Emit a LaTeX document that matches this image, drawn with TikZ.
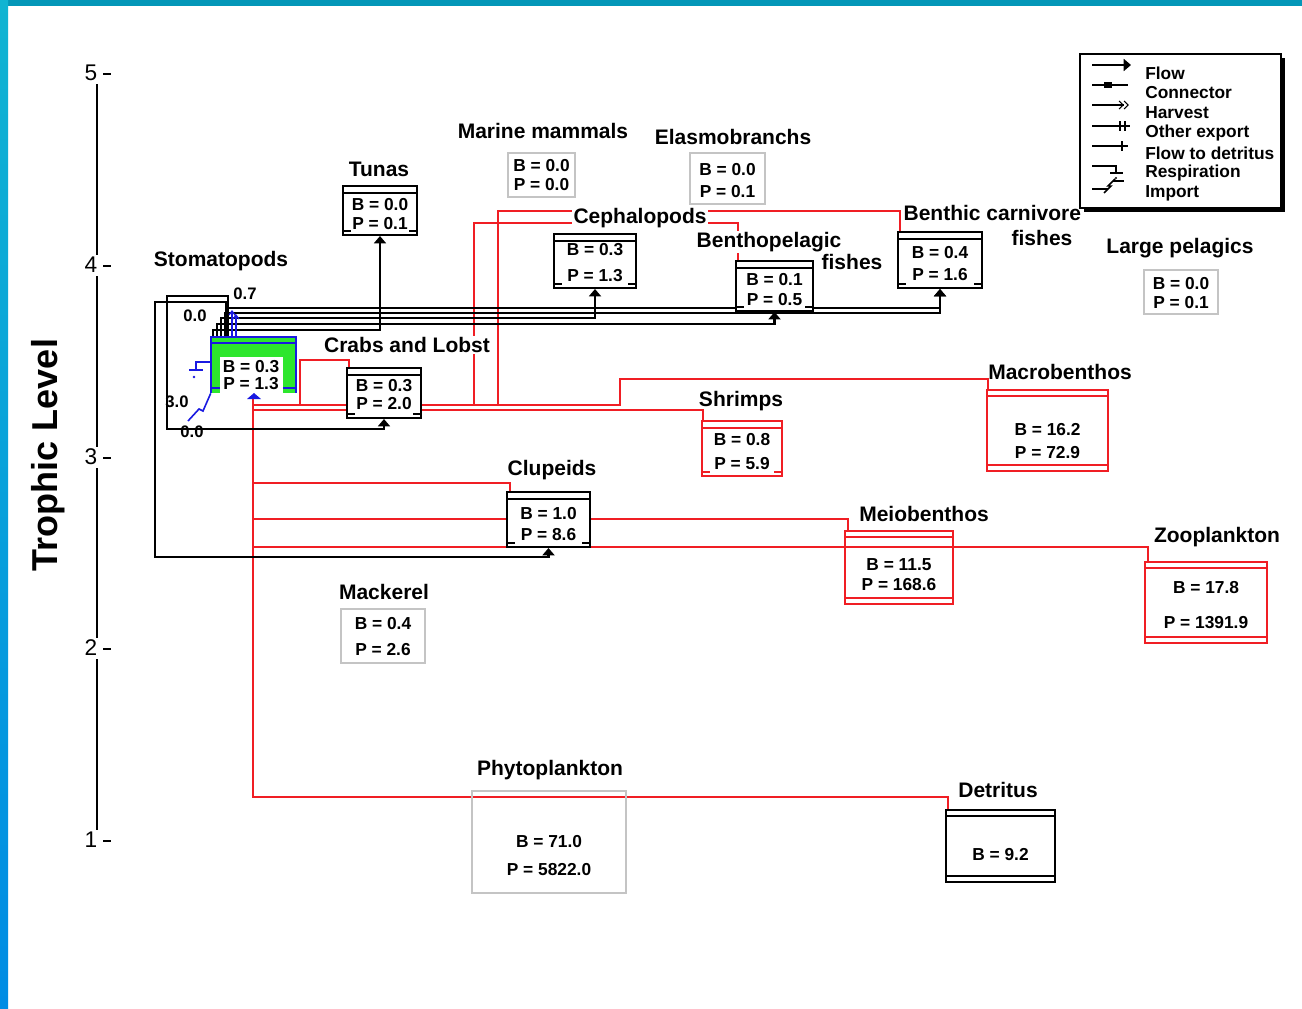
\documentclass[tikz,border=0pt]{standalone}
\usepackage{fontspec}
\setmainfont{Liberation Sans}
\usetikzlibrary{arrows.meta,fit}
\definecolor{rd}{RGB}{240,30,36}
\definecolor{gr}{RGB}{45,230,45}
\definecolor{bl}{RGB}{25,25,225}
\definecolor{gy}{RGB}{196,196,196}
\definecolor{topbar}{RGB}{4,151,184}
\definecolor{lefttop}{RGB}{16,180,210}
\definecolor{leftbot}{RGB}{0,140,228}
\pgfdeclarelayer{bg}
\pgfsetlayers{bg,main}
\tikzset{
  nm/.style={font=\bfseries\fontsize{15.75}{18}\selectfont, inner sep=1pt},
  nmw/.style={nm, fill=white},
  val/.style={font=\bfseries\fontsize{13}{15}\selectfont, inner sep=0pt},
  small/.style={font=\bfseries\fontsize{12.5}{14}\selectfont, inner sep=0pt},
  lg/.style={font=\bfseries\fontsize{13}{15}\selectfont, anchor=west, inner sep=0pt},
  axn/.style={font=\fontsize{17}{19}\selectfont, inner sep=0pt},
  ln/.style={line width=1.5pt},
  rl/.style={draw=rd, line width=1.5pt},
  fl/.style={line width=1.6pt, -{Triangle[width=9pt,length=5.5pt]}},
}
\def\bxc{black}
% box with title bar and bottom ticks
\newcommand\tbox[9]{%
  \node[fit={(#2,#3)(#4,#5)}, inner sep=0pt, draw=\bxc, line width=1.5pt, fill=white] (#1) {};
  \draw[color=\bxc, line width=1.5pt] (#2,#3+7) -- (#4,#3+7);
  \draw[color=\bxc, line width=1.2pt] (#2,#5-4) -- (#2+8,#5-4) (#4-8,#5-4) -- (#4,#5-4);
  \node[val] (#1B) at ({(#2+#4)/2},#6) {#7};
  \node[val] (#1P) at ({(#2+#4)/2},#8) {#9};}
% box with double top and bottom
\newcommand\dbox[9]{%
  \node[fit={(#2,#3)(#4,#5)}, inner sep=0pt, draw=\bxc, line width=1.5pt] (#1) {};
  \draw[color=\bxc, line width=1.2pt] (#2,#3+6) -- (#4,#3+6) (#2,#5-6) -- (#4,#5-6);
  \node[val] (#1B) at ({(#2+#4)/2},#6) {#7};
  \node[val] (#1P) at ({(#2+#4)/2},#8) {#9};}
% plain gray box
\newcommand\gbox[9]{%
  \node[fit={(#2,#3)(#4,#5)}, inner sep=0pt, draw=gy, line width=1.5pt] (#1) {};
  \node[val] (#1B) at ({(#2+#4)/2},#6) {#7};
  \node[val] (#1P) at ({(#2+#4)/2},#8) {#9};}
\begin{document}
\begin{tikzpicture}[x=0.75pt,y=-0.75pt]
\useasboundingbox (0,0) rectangle (1302,1008);
\begin{pgfonlayer}{bg}
\fill[white] (0,0) rectangle (1302,1008);
\fill[topbar] (0,0) rectangle (1302,6);
\shade[top color=lefttop, bottom color=leftbot] (0,0) rectangle (8,1008);
\end{pgfonlayer}

% ---------- axis ----------
\draw[line width=1.5pt] (97,84) -- (97,255) (97,276) -- (97,447) (97,468) -- (97,638) (97,659) -- (97,830);
\node[axn] (t5) at (91,73) {5};
\node[axn] (t4) at (91,265) {4};
\node[axn] (t3) at (91,457) {3};
\node[axn] (t2) at (91,648) {2};
\node[axn] (t1) at (91,840) {1};
\foreach \yy in {74,266,458,649,841} \draw[line width=1.2pt] (103,\yy) -- (111,\yy);
\node[rotate=90, font=\bfseries\fontsize{27}{30}\selectfont, inner sep=0pt] (tl) at (48,455) {Trophic Level};

% ---------- boxes ----------
\tbox{tunas}{343}{186}{417}{235}{205}{B = 0.0}{224}{P = 0.1}
\gbox{mamm}{508}{153}{575}{197}{166}{B = 0.0}{185}{P = 0.0}
\gbox{elas}{690}{153}{765}{204}{170}{B = 0.0}{192}{P = 0.1}
\tbox{ceph}{554}{234}{636}{288}{250}{B = 0.3}{276}{P = 1.3}
\tbox{bpel}{736}{261}{813}{311}{280}{B = 0.1}{300}{P = 0.5}
\tbox{bcarn}{898}{232}{982}{288}{253}{B = 0.4}{275}{P = 1.6}
\gbox{lpel}{1144}{270}{1218}{314}{284}{B = 0.0}{303}{P = 0.1}
\tbox{crabs}{347}{368}{421}{418}{386}{B = 0.3}{404}{P = 2.0}
\tbox{clup}{507}{492}{590}{547}{514}{B = 1.0}{535}{P = 8.6}
\gbox{mack}{341}{609}{425}{663}{624}{B = 0.4}{650}{P = 2.6}
\gbox{phyto}{472}{791}{626}{893}{842}{B = 71.0}{870}{P = 5822.0}
\dbox{detr}{946}{810}{1055}{882}{855}{B = 9.2}{870}{}
\def\bxc{rd}
\tbox{shrimp}{702}{421}{782}{476}{440}{B = 0.8}{464}{P = 5.9}
\dbox{macro}{987}{390}{1108}{471}{430}{B = 16.2}{453}{P = 72.9}
\dbox{meio}{845}{531}{953}{604}{565}{B = 11.5}{585}{P = 168.6}
\dbox{zoo}{1145}{562}{1267}{643}{588}{B = 17.8}{623}{P = 1391.9}
\def\bxc{black}

% stomatopods (highlighted)
\node[fit={(211,337)(296,393)}, inner sep=0pt] (stomato) {};
\fill[gr] (211,337) rectangle (296,393);
\fill[white] (220,357) rectangle (283,394);
\draw[bl, line width=1.5pt] (211,393) -- (211,337) -- (296,337) -- (296,393);
\draw[bl, line width=1.5pt] (211,343) -- (296,343);
\draw[bl, line width=1.5pt] (211,388) -- (220,388) (283,388) -- (296,388);
\node[val] (stomatoB) at (251,367) {B = 0.3};
\node[val] (stomatoP) at (251,384) {P = 1.3};
% blue symbols round stomatopods
\draw[bl, line width=1.2pt] (232,337) -- (232,311) (236,337) -- (236,315);
\draw[bl, line width=0.9pt] (229,315) -- (232,311) -- (235,315) (233,319) -- (236,315) -- (239,319);
\draw[bl, line width=1.5pt] (stomato.west |- 0,362) -- (196,362) -- (196,370);
\draw[bl, line width=1.5pt] (189,370) -- (203,370);
\fill[bl] (194,377) circle (1.3);
\draw[bl, line width=1.2pt] (188,421) -- (199,409) -- (203,411) -- (stomato.south west);
\fill[bl] (247,399) -- (254,393) -- (261,399) -- cycle;
\node[small] (n07) at (245,294) {0.7};
\node[small] (n00a) at (195,316) {0.0};
\node[small] (n30) at (177,402) {3.0};
\node[small] (n00b) at (192,432) {0.0};

% ---------- connectors (behind boxes) ----------
\begin{pgfonlayer}{bg}
\draw[rl] (253,398) -- (253,797) -- (948,797) -- (detr.north -| 948,0);
\draw[rl] (253,405) -- (620,405) -- (620,379) -- (988,379) -- (macro.north -| 988,0);
\draw[rl] (300,405) -- (300,360) -- (349,360) -- (crabs.north -| 349,0);
\draw[rl] (253,410) -- (703,410) -- (shrimp.north -| 703,0);
\draw[rl] (474,405) -- (474,223) -- (738,223) -- (bpel.north -| 738,0);
\draw[rl] (498,405) -- (498,211) -- (900,211) -- (bcarn.north -| 900,0);
\draw[rl] (253,483) -- (510,483) -- (clup.north -| 510,0);
\draw[rl] (253,519) -- (848,519) -- (meio.north -| 848,0);
\draw[rl] (253,547) -- (1148,547) -- (zoo.north -| 1148,0);
\draw[fl] (stomato.north -| 213,0) -- (213,330) -- (tunas.south |- 0,330) -- (tunas.south);
\draw[fl] (stomato.north -| 217,0) -- (217,324) -- (bpel.south |- 0,324) -- (bpel.south);
\draw[fl] (stomato.north -| 221,0) -- (221,318) -- (ceph.south |- 0,318) -- (ceph.south);
\draw[fl] (stomato.north -| 225,0) -- (225,313) -- (bcarn.south |- 0,313) -- (bcarn.south);
\draw[fl] (stomato.north -| 228,0) -- (228,308) -- (bcarn.south |- 0,308) -- (bcarn.south);
\draw[fl] (stomato.north -| 228,0) -- (228,296) -- (167,296) -- (167,429) -- (crabs.south |- 0,429) -- (crabs.south);
\draw[fl] (stomato.north -| 226,0) -- (226,302) -- (155,302) -- (155,557) -- (clup.south |- 0,557) -- (clup.south);
\end{pgfonlayer}

% ---------- legend ----------
\fill (1084,58) rectangle (1285,212);
\node[fit={(1080,54)(1281,208)}, inner sep=0pt, draw, line width=1.2pt, fill=white] (legend) {};
\draw[fl] (1092,65) -- (1131,65);
\draw[ln] (1092,85) -- (1128,85); \fill (1104,82) rectangle (1112,88);
\draw[ln] (1092,105) -- (1124,105);
\draw[line width=0.8pt] (1119,101) -- (1123,105) -- (1119,109) (1124,101) -- (1128,105) -- (1124,109);
\draw[ln] (1092,126) -- (1130,126) (1120,121) -- (1120,131) (1125,121) -- (1125,131);
\draw[ln] (1092,146) -- (1128,146) (1122,141) -- (1122,151);
\draw[ln] (1092,166) -- (1116,166) -- (1116,173) (1110,173) -- (1123,173);
\fill (1116,178) circle (1.1);
\draw[ln] (1092,189) -- (1108,189);
\draw[line width=1.1pt] (1104,193) -- (1111,186) -- (1108,186) -- (1115,179);
\draw[ln] (1113,181) -- (1124,181);
\node[lg] (lg1) at (1145,73) {Flow};
\node[lg] (lg2) at (1145,93) {Connector};
\node[lg] (lg3) at (1145,113) {Harvest};
\node[lg] (lg4) at (1145,133) {Other export};
\node[lg] (lg5) at (1145,153) {Flow to detritus};
\node[lg] (lg6) at (1145,173) {Respiration};
\node[lg] (lg7) at (1145,193) {Import};

% ---------- group names ----------
\node[nm] (ltunas) at (379,169) {Tunas};
\node[nm] (lmamm) at (543,131) {Marine mammals};
\node[nm] (lelas) at (733,137) {Elasmobranchs};
\node[nmw] (lceph) at (640,218) {Cephalopods};
\node[nmw] (lbpel) at (769,242) {Benthopelagic};
\node[nm] (lbpel2) at (852,262) {fishes};
\node[nm, anchor=west] (lbcarn) at (902,213) {Benthic carnivore};
\node[nm] (lbcarn2) at (1042,238) {fishes};
\node[nm] (llpel) at (1180,248) {Large pelagics};
\node[nm] (lstom) at (221,261) {Stomatopods};
\node[nmw] (lcrabs) at (407,345) {Crabs and Lobst};
\node[nm] (lshrimp) at (741,401) {Shrimps};
\node[nm] (lmacro) at (1060,372) {Macrobenthos};
\node[nm] (lclup) at (552,470) {Clupeids};
\node[nm] (lmeio) at (924,514) {Meiobenthos};
\node[nm] (lzoo) at (1217,537) {Zooplankton};
\node[nm] (lmack) at (384,592) {Mackerel};
\node[nm] (lphyto) at (550,770) {Phytoplankton};
\node[nm] (ldetr) at (998,790) {Detritus};
\end{tikzpicture}
\end{document}
